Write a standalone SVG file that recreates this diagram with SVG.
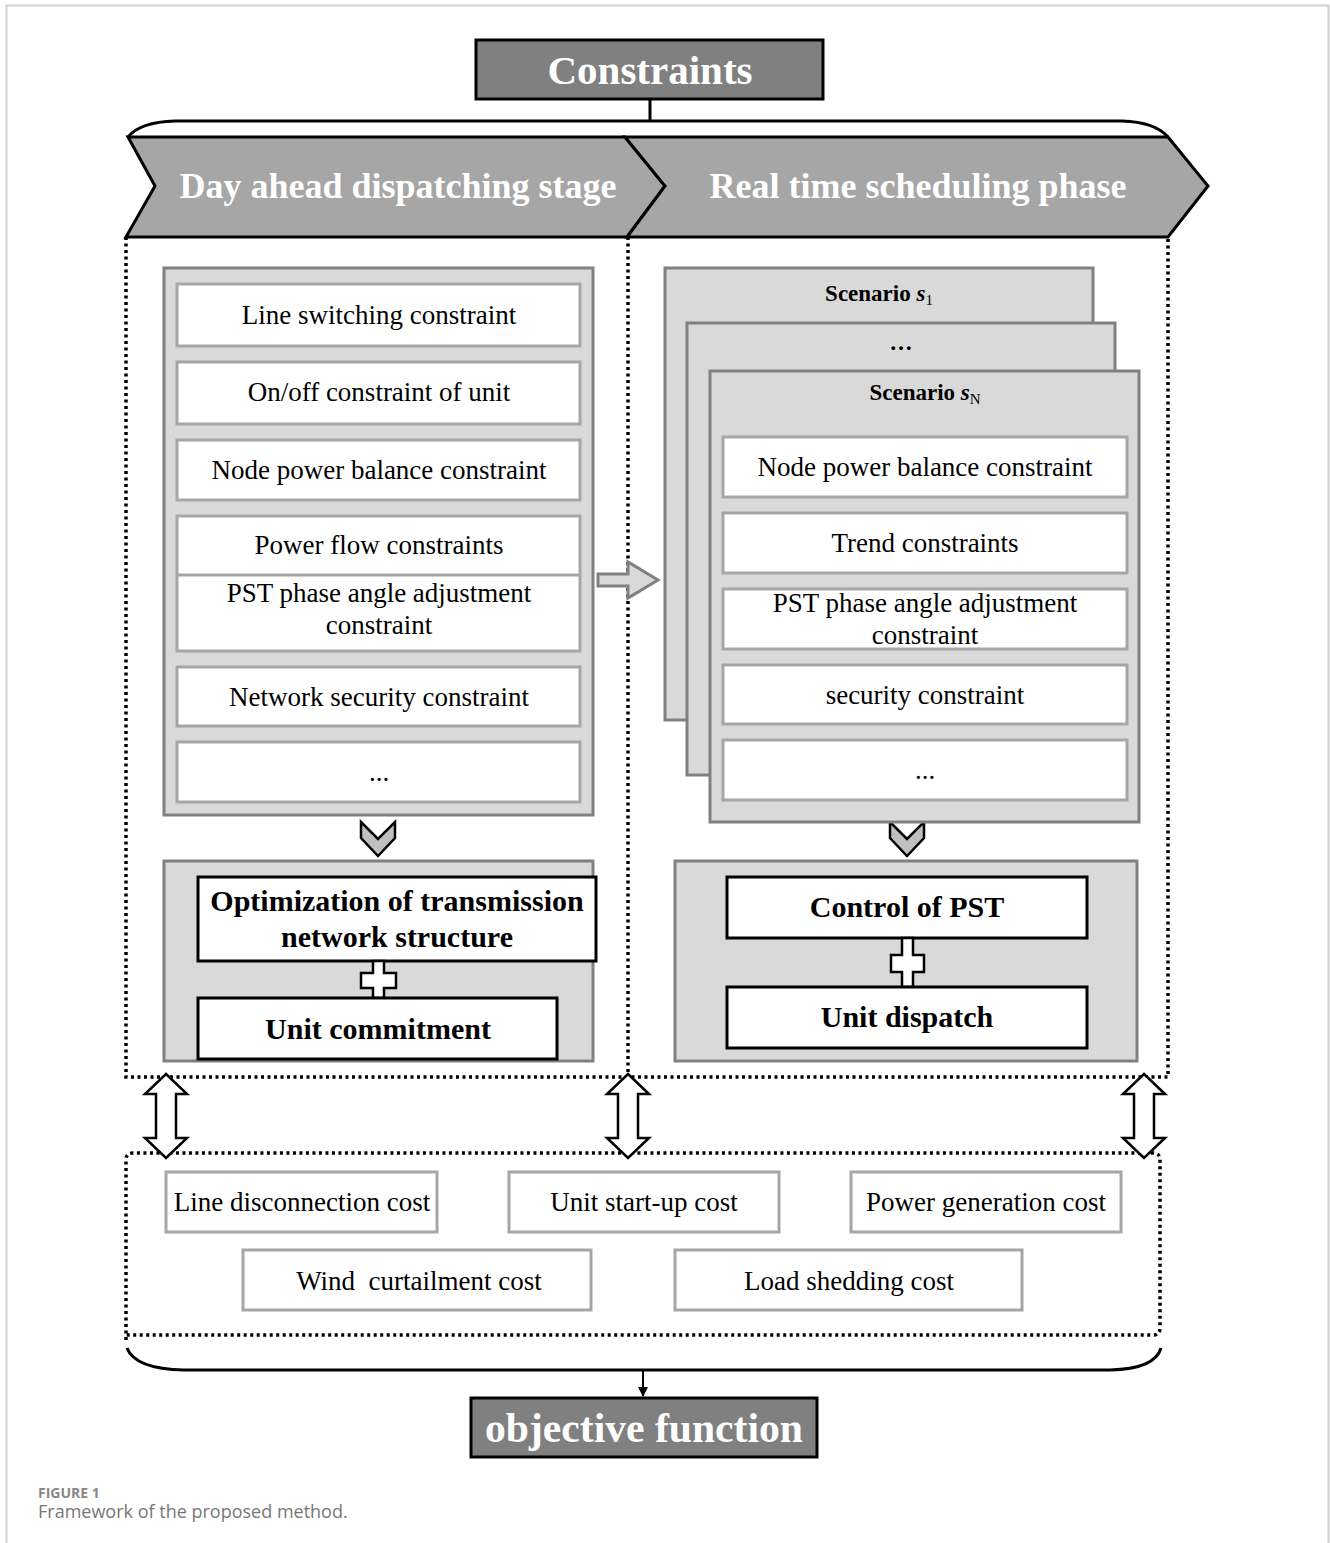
<svg xmlns="http://www.w3.org/2000/svg" width="1330" height="1543" viewBox="0 0 1330 1543">
<style>
.t{font-family:"Liberation Serif","Times New Roman",serif;font-size:27px;fill:#000;text-anchor:middle}
.b{font-family:"Liberation Serif","Times New Roman",serif;font-weight:bold;font-size:30px;fill:#000;text-anchor:middle}
.h{font-family:"Liberation Serif","Times New Roman",serif;font-weight:bold;fill:#fff;text-anchor:middle}
.sc{font-family:"Liberation Serif","Times New Roman",serif;font-weight:bold;font-size:23px;fill:#000;text-anchor:middle}
.wb{fill:#fff;stroke:#a6a6a6;stroke-width:3}
.panel{fill:#d9d9d9;stroke:#808080;stroke-width:3}
.kb{fill:#fff;stroke:#000;stroke-width:3}
.dark{fill:#808080;stroke:#000;stroke-width:3}
.dot{fill:none;stroke:#000;stroke-width:3.5;stroke-dasharray:3 3.5}
.ln{fill:none;stroke:#000;stroke-width:3}
.hollow{fill:#fff;stroke:#000;stroke-width:2.5;stroke-linejoin:miter}
.chev{fill:#bfbfbf;stroke:#000;stroke-width:2.5}
</style>
<defs>
<marker id="ah" markerWidth="10" markerHeight="10" refX="9" refY="5" orient="auto" markerUnits="userSpaceOnUse"><path d="M0,0 L10,5 L0,10 z" fill="#000"/></marker>
</defs>
<rect width="1330" height="1543" fill="#fff"/>
<path d="M6.5,1543 V5.5 H1328.5 V1543" fill="none" stroke="#d0d0d0" stroke-width="2"/>

<g id="constraints">
<rect x="476" y="40" width="347" height="59" class="dark"/>
<text x="650" y="84" class="h" font-size="41">Constraints</text>
</g>

<g id="connectors">
<line x1="650" y1="99" x2="650" y2="121" class="ln"/>
<path d="M128,137 Q140,122 175,121 H1122 Q1155,122 1168,137" class="ln"/>
<path d="M127,1348 Q135,1369 184,1370 H1110 Q1155,1369 1161,1348" class="ln"/>
<line x1="643" y1="1370" x2="643" y2="1396" stroke="#000" stroke-width="2" marker-end="url(#ah)"/>
<path d="M126,237 V1077 H1168 V237" class="dot"/>
<line x1="628" y1="237" x2="628" y2="1077" class="dot"/>
<path d="M126,1340 V1160 Q126,1153 133,1153 H1153 Q1160,1153 1160,1160 V1328 Q1160,1335 1153,1335 H126" class="dot"/>
<path d="M598,574 H628 V562 L658,580 L628,598 V586 H598 Z" fill="#d9d9d9" stroke="#808080" stroke-width="3"/>
<path d="M361,822 L378,839 L395,822 L395,838 L378,856 L361,838 Z" class="chev"/>
<path d="M890,822 L907,839 L924,822 L924,838 L907,856 L890,838 Z" class="chev"/>
<path d="M166,1074 L187,1094 H176 V1138 H187 L166,1158 L145,1138 H156 V1094 H145 Z" class="hollow"/>
<path d="M628,1074 L649,1094 H638 V1138 H649 L628,1158 L607,1138 H618 V1094 H607 Z" class="hollow"/>
<path d="M1144,1074 L1165,1094 H1154 V1138 H1165 L1144,1158 L1123,1138 H1134 V1094 H1123 Z" class="hollow"/>
</g>

<g id="stage-day-ahead">
<path d="M128,137 H625 L665,186 L627,237 H126 L155,186 Z" fill="#a6a6a6" stroke="#000" stroke-width="3" stroke-linejoin="miter"/>
<text x="398" y="198" class="h" font-size="36">Day ahead dispatching stage</text>
</g>
<g id="stage-real-time">
<path d="M625,137 H1168 L1208,186 L1168,237 H627 L665,186 Z" fill="#a6a6a6" stroke="#000" stroke-width="3" stroke-linejoin="miter"/>
<text x="918" y="198" class="h" font-size="36">Real time scheduling phase</text>
</g>

<g id="day-ahead-constraints">
<rect x="164" y="268" width="429" height="547" class="panel"/>
<rect x="177" y="284" width="403" height="62" class="wb"/>
<text x="379" y="324" class="t">Line switching constraint</text>
<rect x="177" y="362" width="403" height="62" class="wb"/>
<text x="379" y="401" class="t">On/off constraint of unit</text>
<rect x="177" y="440" width="403" height="60" class="wb"/>
<text x="379" y="479" class="t">Node power balance constraint</text>
<rect x="177" y="516" width="403" height="135" class="wb"/>
<line x1="177" y1="575" x2="580" y2="575" stroke="#a6a6a6" stroke-width="3"/>
<text x="379" y="554" class="t">Power flow constraints</text>
<text x="379" y="602" class="t">PST phase angle adjustment</text>
<text x="379" y="634" class="t">constraint</text>
<rect x="177" y="667" width="403" height="59" class="wb"/>
<text x="379" y="706" class="t">Network security constraint</text>
<rect x="177" y="742" width="403" height="60" class="wb"/>
<text x="379" y="781" class="t">...</text>
</g>

<g id="real-time-scenarios">
<rect x="665" y="268" width="428" height="452" class="panel"/>
<text x="879" y="301" class="sc">Scenario <tspan font-style="italic">s</tspan><tspan font-size="15" font-weight="normal" dy="4">1</tspan></text>
<rect x="687" y="323" width="428" height="452" class="panel"/>
<text x="901" y="350" class="sc" font-weight="normal">…</text>
<rect x="710" y="371" width="429" height="451" class="panel"/>
<text x="925" y="400" class="sc">Scenario <tspan font-style="italic">s</tspan><tspan font-size="15" font-weight="normal" dy="4">N</tspan></text>
<rect x="723" y="437" width="404" height="60" class="wb"/>
<text x="925" y="476" class="t">Node power balance constraint</text>
<rect x="723" y="513" width="404" height="60" class="wb"/>
<text x="925" y="552" class="t">Trend constraints</text>
<rect x="723" y="589" width="404" height="60" class="wb"/>
<text x="925" y="612" class="t">PST phase angle adjustment</text>
<text x="925" y="644" class="t">constraint</text>
<rect x="723" y="665" width="404" height="59" class="wb"/>
<text x="925" y="704" class="t">security constraint</text>
<rect x="723" y="740" width="404" height="60" class="wb"/>
<text x="925" y="779" class="t">...</text>
</g>

<g id="day-ahead-decisions">
<rect x="164" y="861" width="429" height="200" class="panel"/>
<rect x="198" y="877" width="398" height="84" class="kb"/>
<text x="397" y="911" class="b">Optimization of transmission</text>
<text x="397" y="947" class="b">network structure</text>
<path d="M373,961 V973 H361 V988 H373 V998 H384 V988 H396 V973 H384 V961 Z" class="hollow"/>
<rect x="198" y="998" width="359" height="61" class="kb"/>
<text x="378" y="1039" class="b">Unit commitment</text>
</g>

<g id="real-time-decisions">
<rect x="675" y="861" width="462" height="200" class="panel"/>
<rect x="727" y="877" width="360" height="61" class="kb"/>
<text x="907" y="917" class="b">Control of PST</text>
<path d="M902,938 V955 H891 V972 H902 V987 H913 V972 H924 V955 H913 V938 Z" class="hollow"/>
<rect x="727" y="987" width="360" height="61" class="kb"/>
<text x="907" y="1027" class="b">Unit dispatch</text>
</g>

<g id="costs">
<rect x="166" y="1172" width="271" height="60" class="wb"/>
<text x="302" y="1211" class="t">Line disconnection cost</text>
<rect x="509" y="1172" width="270" height="60" class="wb"/>
<text x="644" y="1211" class="t">Unit start-up cost</text>
<rect x="851" y="1172" width="270" height="60" class="wb"/>
<text x="986" y="1211" class="t">Power generation cost</text>
<rect x="243" y="1250" width="348" height="60" class="wb"/>
<text x="419" y="1290" class="t" style="white-space:pre">Wind  curtailment cost</text>
<rect x="675" y="1250" width="347" height="60" class="wb"/>
<text x="849" y="1290" class="t">Load shedding cost</text>
</g>

<g id="objective">
<rect x="471" y="1398" width="346" height="59" class="dark"/>
<text x="644" y="1442" class="h" font-size="42" textLength="318" lengthAdjust="spacingAndGlyphs">objective function</text>
</g>

<g id="caption">
<text x="38" y="1498" font-family="'Open Sans','Noto Sans',sans-serif" font-size="14" font-weight="bold" fill="#888">FIGURE 1</text>
<text x="38" y="1518" font-family="'Open Sans','Noto Sans',sans-serif" font-size="18" fill="#777">Framework of the proposed method.</text>
</g>
</svg>
